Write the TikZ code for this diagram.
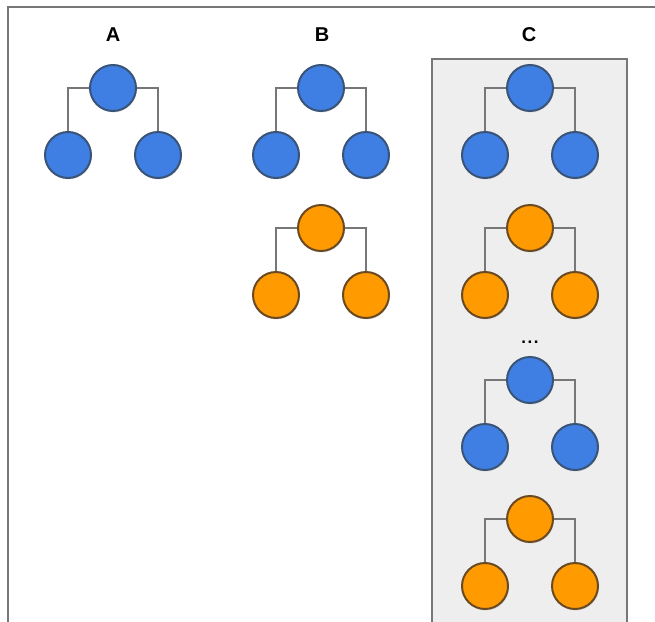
\documentclass[tikz,border=0pt]{standalone}
\usepackage{fontspec}
\setmainfont{Liberation Sans}
\usetikzlibrary{shadows}
\definecolor{bluefill}{HTML}{3F7FE3}
\definecolor{bluedraw}{HTML}{3A5478}
\definecolor{orangefill}{HTML}{FF9A00}
\definecolor{orangedraw}{HTML}{6A4A22}
\definecolor{linegray}{HTML}{777777}
\definecolor{boxfill}{HTML}{EEEEEE}
\tikzset{
  bnode/.style={circle, minimum size=46pt, inner sep=0pt, fill=bluefill, draw=bluedraw, line width=2pt,
    drop shadow={opacity=0.2, shadow xshift=0.8pt, shadow yshift=-1.5pt}},
  onode/.style={circle, minimum size=46pt, inner sep=0pt, fill=orangefill, draw=orangedraw, line width=2pt,
    drop shadow={opacity=0.2, shadow xshift=0.8pt, shadow yshift=-1.5pt}},
  conn/.style={draw=linegray, line width=1.4pt},
  frame/.style={draw=linegray, line width=1.6pt},
  lbl/.style={font=\fontsize{20}{22}\selectfont\bfseries}
}
\newcommand{\mytree}[4]{% name, style, x, y
  \node[#2] (#1t) at (#3,#4) {};
  \node[#2] (#1l) at ({#3-45},{#4+67}) {};
  \node[#2] (#1r) at ({#3+45},{#4+67}) {};
}
\begin{document}
\begin{tikzpicture}[x=1pt,y=-1pt]
\useasboundingbox (0,0) rectangle (655,621);
\fill[white] (0,0) rectangle (655,621);
% frame
\coordinate (fa) at (8,630);
\coordinate (fb) at (8,7);
\coordinate (fc) at (660,7);
\draw[frame] (fa) -- (fb) -- (fc);
% grey box C
\coordinate (ca) at (432,630);
\coordinate (cb) at (627,59);
\draw[frame, fill=boxfill] (ca) rectangle (cb);
% labels
\node[lbl] (la) at (113,35) {A};
\node[lbl] (lb) at (322,35) {B};
\node[lbl] (lc) at (529,35) {C};
% connectors drawn first (under nodes)
\foreach \n/\x/\y in {a/113/88, b/321/88, bo/321/228, c/530/88, co/530/228, c2/530/380, co2/530/519}{
  \coordinate (\n cl) at ({\x-45},\y);
  \coordinate (\n cr) at ({\x+45},\y);
  \coordinate (\n bl) at ({\x-45},{\y+50});
  \coordinate (\n br) at ({\x+45},{\y+50});
  \draw[conn] (\n bl) -- (\n cl) -- (\n cr) -- (\n br);
}
% trees
\mytree{a}{bnode}{113}{88}
\mytree{b}{bnode}{321}{88}
\mytree{bo}{onode}{321}{228}
\mytree{c}{bnode}{530}{88}
\mytree{co}{onode}{530}{228}
\mytree{cc}{bnode}{530}{380}
\mytree{cco}{onode}{530}{519}
\node[font=\fontsize{17}{17}\selectfont\bfseries] (dots) at (530,342) {.\kern1.5pt.\kern1.5pt.};
\end{tikzpicture}
\end{document}
